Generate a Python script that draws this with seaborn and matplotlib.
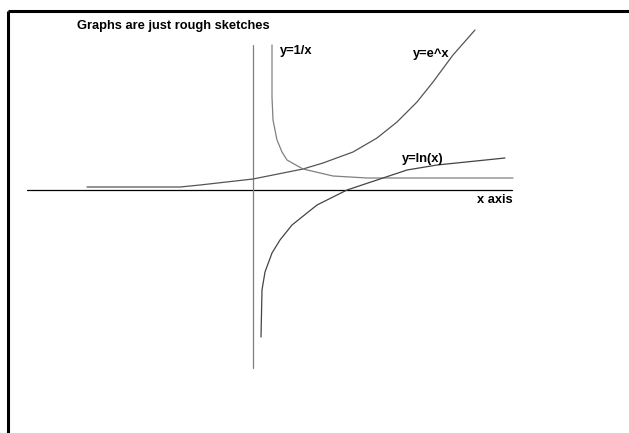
import matplotlib
matplotlib.use("Agg")
import matplotlib.pyplot as plt
import seaborn as sns
from matplotlib.lines import Line2D

sns.set_theme(style="white")
plt.rcParams['font.family'] = ['Liberation Sans', 'DejaVu Sans']

# Sketch data (units: 1 unit = 10 px from origin)
exp_x = [-16.6, -7.3, -5.3, 0.0, 5.0, 7.0, 10.0, 12.4, 14.4, 16.4, 18.0, 20.0, 22.2]
exp_y = [0.3, 0.3, 0.5, 1.1, 2.1, 2.7, 3.8, 5.2, 6.8, 8.8, 10.8, 13.5, 16.0]

inv_x = [1.9, 1.9, 2.0, 2.4, 2.9, 3.4, 5.0, 8.0, 11.4, 26.0]
inv_y = [14.5, 9.3, 7.0, 5.0, 3.8, 3.0, 2.1, 1.4, 1.2, 1.2]

ln_x = [0.8, 0.9, 1.2, 1.9, 2.7, 3.9, 6.4, 9.4, 13.0, 15.4, 18.4, 25.2]
ln_y = [-14.7, -10.0, -8.2, -6.3, -5.0, -3.5, -1.5, 0.0, 1.2, 2.0, 2.5, 3.2]

xaxis_x = [-22.6, 25.9]
xaxis_y = [0.0, 0.0]
yaxis_x = [0.0, 0.0]
yaxis_y = [14.5, -17.8]

labels = ["Graphs are just rough sketches", "y=1/x", "y=e^x", "y=ln(x)", "x axis"]

W, H = 629, 433
OX, OY = 253, 190
S = 10.0

fig = plt.figure(figsize=(W / 100, H / 100), dpi=100)
ax = fig.add_axes([0, 0, 1, 1])
ax.set_xlim(-OX / S, (W - OX) / S)
ax.set_ylim((OY - H) / S, OY / S)
ax.axis("off")


def px(x, y):
    return (x - OX) / S, (OY - y) / S


lw = 0.9
sns.lineplot(x=xaxis_x, y=xaxis_y, color="black", lw=lw, ax=ax, sort=False, estimator=None)
sns.lineplot(x=yaxis_x, y=yaxis_y, color="#808080", lw=lw, ax=ax, sort=False, estimator=None)
sns.lineplot(x=exp_x, y=exp_y, color="#555555", lw=lw, ax=ax, sort=False, estimator=None)
sns.lineplot(x=inv_x, y=inv_y, color="#808080", lw=lw, ax=ax, sort=False, estimator=None)
sns.lineplot(x=ln_x, y=ln_y, color="#444444", lw=lw, ax=ax, sort=False, estimator=None)

# frame lines (top and left)
x0, y0 = px(8, 11)
x1, _ = px(629, 11)
_, y1 = px(8, 433)
ax.add_line(Line2D([x0, x1], [y0, y0], color="black", lw=2.2, solid_capstyle="butt"))
ax.add_line(Line2D([x0, x0], [y0, y1], color="black", lw=2.2, solid_capstyle="butt"))

pos = [(77, 29), (280, 54), (413, 57), (402, 162), (477, 203)]
for t, (xx, yy) in zip(labels, pos):
    dx, dy = px(xx, yy)
    ax.text(dx, dy, t, fontsize=9.3, fontweight="bold", color="black",
            ha="left", va="baseline")

fig.savefig("out.png", dpi=100)
